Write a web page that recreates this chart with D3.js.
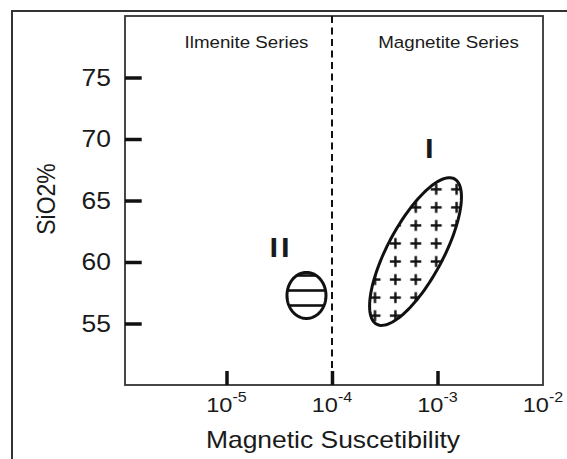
<!DOCTYPE html>
<html>
<head>
<meta charset="utf-8">
<script src="https://cdn.jsdelivr.net/npm/d3@7"></script>
<style>
  html, body { margin: 0; padding: 0; background: #fff; }
  svg { display: block; }
  text { font-family: "Liberation Sans", Arial, sans-serif; fill: #1a1a1a; }
</style>
</head>
<body>
<div id="chart"></div>
<script>
// data
const xTicks = [1e-5, 1e-4, 1e-3, 1e-2];
const xTickExp = ["-5", "-4", "-3", "-2"];
const yTicks = [55, 60, 65, 70, 75];
const seriesNames = ["Ilmenite Series", "Magnetite Series"];
const seriesBoundary = 1e-4;
// ellipse: centre, end of first semi-axis, end of second semi-axis  [susceptibility, SiO2]
const fieldNames = ["I", "II"];
const fieldCentre = [[6.19e-4, 60.85], [5.73e-5, 57.28]];
const fieldAxisA = [[1.445e-3, 66.76], [8.77e-5, 57.28]];
const fieldAxisB = [[1.057e-3, 59.79], [5.73e-5, 59.15]];
const fieldLabelAt = [[8.36e-4, 68.45], [3.29e-5, 60.4]];

class Chart {
    constructor(option) {
        for (let [key, value] of Object.entries(option)) {
            this[key] = value;
        }
        this.stretch = 1.15;   // the original figure is widened a bit
        this.left = 125; this.right = 543; this.top = 16; this.bottom = 385;
        this.creatSvg();
        this.creatScales();
        this.creatFrame();
        this.creatAxes();
        this.creatFields();
    }
    creatSvg() {
        this.svg = d3.select(this.ele)
            .append('svg')
            .attr('width', this.width)
            .attr('height', this.height);
        const defs = this.svg.append('defs');
        // plus hatching for field I
        const plus = defs.append('pattern')
            .attr('id', 'plus')
            .attr('patternUnits', 'userSpaceOnUse')
            .attr('x', 364.8).attr('y', 180.3)
            .attr('width', 20.4).attr('height', 18.05);
        plus.append('path')
            .attr('d', 'M4.7,9H15.7M10.2,3.5V14.5')
            .attr('stroke', '#111').attr('stroke-width', 2.4).attr('fill', 'none');
        // horizontal lines for field II
        const lines = defs.append('pattern')
            .attr('id', 'lines')
            .attr('patternUnits', 'userSpaceOnUse')
            .attr('x', 0).attr('y', 268)
            .attr('width', 10).attr('height', 15);
        lines.append('path')
            .attr('d', 'M0,7.5H10')
            .attr('stroke', '#111').attr('stroke-width', 2.6);
    }
    creatScales() {
        this.x = d3.scaleLog()
            .domain([Math.pow(10, -5.962), 1e-2])
            .range([this.left, this.right]);
        this.y = d3.scaleLinear()
            .domain([50, 80])
            .range([this.bottom, this.top]);
    }
    text(x, y, str, size, anchor) {
        return this.svg.append('g')
            .attr('transform', `translate(${x},${y}) scale(${this.stretch},1)`)
            .append('text')
            .attr('text-anchor', anchor || 'middle')
            .style('font-size', size + 'px')
            .text(str);
    }
    creatFrame() {
        // outer border (only top and left are in the picture)
        this.svg.append('path')
            .attr('d', `M12,${this.height}V11H${this.width}`)
            .attr('fill', 'none').attr('stroke', '#333').attr('stroke-width', 2);
        this.svg.append('rect')
            .attr('x', this.left).attr('y', this.top)
            .attr('width', this.right - this.left)
            .attr('height', this.bottom - this.top)
            .attr('fill', 'none').attr('stroke', '#333').attr('stroke-width', 1.8);
        // series boundary
        this.svg.append('line')
            .attr('x1', this.x(seriesBoundary)).attr('x2', this.x(seriesBoundary))
            .attr('y1', this.top).attr('y2', this.bottom)
            .attr('stroke', '#111').attr('stroke-width', 2)
            .attr('stroke-dasharray', '7,4.5');
        const mid = [this.x(1e-5) + 20, this.x(1e-3) + 11];
        seriesNames.forEach((s, i) => this.text(mid[i], 47.7, s, 16.3));
    }
    creatAxes() {
        const xAxis = d3.axisBottom(this.x)
            .tickValues(xTicks.slice(0, 3))
            .tickSize(-14)
            .tickFormat('');
        const gx = this.svg.append('g')
            .attr('transform', `translate(0,${this.bottom})`)
            .call(xAxis);
        const yAxis = d3.axisLeft(this.y)
            .tickValues(yTicks)
            .tickSize(-16.7)
            .tickFormat('');
        const gy = this.svg.append('g')
            .attr('transform', `translate(${this.left},0)`)
            .call(yAxis);
        [gx, gy].forEach(g => {
            g.select('.domain').remove();
            g.selectAll('.tick line').attr('stroke', '#111').attr('stroke-width', 3.5);
        });

        xTicks.forEach((v, i) => {
            const t = this.text(this.x(v), 412.3, '10', 20.5);
            t.append('tspan')
                .attr('dy', -10.6)
                .style('font-size', '14px')
                .text(xTickExp[i]);
        });
        yTicks.forEach(v => {
            this.text(111, this.y(v), v, 23, 'end').attr('dy', '0.36em');
        });

        this.text(333, 448.3, 'Magnetic Suscetibility', 23);
        this.svg.append('g')
            .attr('transform', `translate(55,199) scale(${this.stretch},1) rotate(-90)`)
            .append('text')
            .attr('text-anchor', 'middle')
            .style('font-size', '23px')
            .text('SiO2%');
    }
    ellipse(i) {
        const c = [this.x(fieldCentre[i][0]), this.y(fieldCentre[i][1])];
        const a = [this.x(fieldAxisA[i][0]) - c[0], this.y(fieldAxisA[i][1]) - c[1]];
        const b = [this.x(fieldAxisB[i][0]) - c[0], this.y(fieldAxisB[i][1]) - c[1]];
        return d3.range(0, 361, 3).map(d => {
            const t = d * Math.PI / 180;
            return [c[0] + a[0] * Math.cos(t) + b[0] * Math.sin(t),
                    c[1] + a[1] * Math.cos(t) + b[1] * Math.sin(t)];
        });
    }
    creatFields() {
        const line = d3.line().curve(d3.curveLinearClosed);
        const fills = ['url(#plus)', 'url(#lines)'];
        fieldNames.forEach((name, i) => {
            this.svg.append('path')
                .attr('d', line(this.ellipse(i)))
                .attr('fill', fills[i])
                .attr('stroke', '#111')
                .attr('stroke-width', 3);
            this.text(this.x(fieldLabelAt[i][0]), this.y(fieldLabelAt[i][1]), name, 27, 'middle')
                .style('font-weight', 'bold')
                .style('letter-spacing', i === 1 ? '2.5px' : '0px');
        });
    }
}

new Chart({
    ele: document.getElementById('chart'),
    width: 567,
    height: 459
});
</script>
</body>
</html>
